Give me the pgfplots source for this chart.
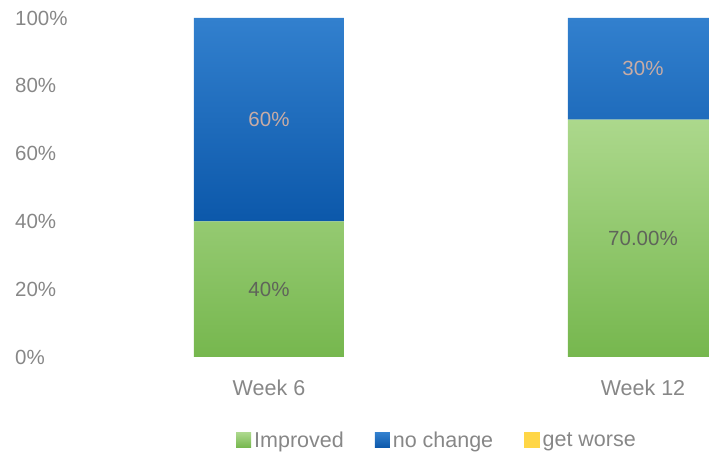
\documentclass[border=0pt]{standalone}
\usepackage{pgfplots}
\pgfplotsset{compat=1.18}
\usepackage{pgfplotstable}
\usepackage{fontspec}
\setmainfont{Liberation Sans}

\definecolor{grntop}{RGB}{172,216,140}
\definecolor{grnbot}{RGB}{118,183,78}
\definecolor{blutop}{RGB}{50,128,206}
\definecolor{blubot}{RGB}{12,88,170}
\definecolor{grnkey}{RGB}{150,205,110}
\definecolor{blukey}{RGB}{70,130,200}
\definecolor{ylwkey}{RGB}{255,214,70}
\definecolor{txt}{RGB}{135,135,135}
\definecolor{labdark}{RGB}{95,100,90}
\definecolor{lablight}{RGB}{200,172,165}

\pgfplotstableread{
x improved nochange ilab nlab
0 40 60 40 60
1 70 30 70.00 30
}\weeks

\begin{document}
\begin{tikzpicture}
\begin{axis}[
    name=ax,
    scale only axis,
    width=627pt, height=357pt,
    ybar stacked, bar width=150pt,
    xmin=-0.5, xmax=1.1765,
    ymin=0, ymax=105.31,
    axis line style={draw=none},
    major tick length=0pt,
    ytick={0,20,...,100},
    yticklabel={\pgfmathprintnumber{\tick}\%},
    yticklabel style={anchor=west, inner sep=0pt, xshift=-67pt},
    /pgf/number format/assume math mode=true,
    xtick={0,1},
    xticklabels={Week 6, Week 12},
    xticklabel style={anchor=center, yshift=-31pt, font=\fontsize{21.5}{25}\selectfont},
    yticklabel style={font=\fontsize{20.5}{24}\selectfont},
    tick label style={text=txt},
    legend style={at={(0.567,-0.233)}, anchor=center, draw=none, fill=none,
        font=\fontsize{21.5}{25}\selectfont, text=txt,
        nodes={inner sep=3pt},
        /tikz/every even column/.style={column sep=28pt}},
    legend columns=3,
    every node near coord/.append style={font=\fontsize{20.5}{24}\selectfont, anchor=center},
]
% stacked bars already put nodes near coords in the middle of each block
\addplot[draw=none, top color=grntop, bottom color=grnbot,
    point meta=explicit symbolic,
    nodes near coords={\pgfplotspointmeta\%},
    every node near coord/.append style={text=labdark},
    legend image code/.code={\fill[grnkey] (-4pt,-7.5pt) rectangle (11pt,7.5pt);}]
    table[x=x, y=improved, meta=ilab] {\weeks};
\addlegendentry{Improved}
\addplot[draw=none, top color=blutop, bottom color=blubot,
    point meta=explicit symbolic,
    nodes near coords={\pgfplotspointmeta\%},
    every node near coord/.append style={text=lablight},
    legend image code/.code={\fill[blukey] (-4pt,-7.5pt) rectangle (11pt,7.5pt);}]
    table[x=x, y=nochange, meta=nlab] {\weeks};
\addlegendentry{no change}
\addlegendimage{legend image code/.code={\fill[ylwkey] (-4pt,-7.5pt) rectangle (11pt,7.5pt);}}
\addlegendentry{get worse}
\end{axis}
\pgfresetboundingbox
\path (ax.south west) ++(-82pt,-102pt) rectangle (ax.north east);
\end{tikzpicture}
\end{document}
